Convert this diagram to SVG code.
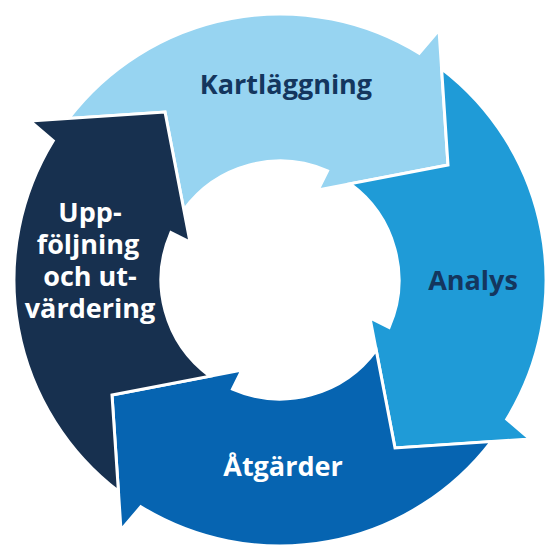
<svg xmlns="http://www.w3.org/2000/svg" width="545" height="545" viewBox="0 0 545 545">
  <defs>
    <style>
      .seg { stroke: #ffffff; stroke-width: 3; stroke-linejoin: miter; }
      .lbl { font-family: "Open Sans", "Noto Sans", "Liberation Sans", sans-serif; font-weight: 700; font-size: 27px; text-anchor: middle; }
      .dark { fill: #14365e; }
      .light { fill: #ffffff; }
    </style>
    <path id="arrow" d="M -211.3 -161.6 A 266 266 0 0 1 139.2 -226.7 L 159 -250 L 168 -115 L 38 -90 L 47.5 -109.1 A 119 119 0 0 0 -96.2 -70.1 L -115 -168 Z"/>
  </defs>
  <rect width="545" height="545" fill="#ffffff"/>
  <g id="kartlaggning">
    <use href="#arrow" class="seg" fill="#97d4f1" transform="translate(280 280)"/>
    <text class="lbl dark" x="286" y="94">Kartläggning</text>
  </g>
  <g id="analys">
    <use href="#arrow" class="seg" fill="#1f9bd7" transform="translate(280 280) rotate(90)"/>
    <text class="lbl dark" x="473" y="290">Analys</text>
  </g>
  <g id="atgarder">
    <use href="#arrow" class="seg" fill="#0664b1" transform="translate(280 280) rotate(180)"/>
    <text class="lbl light" x="283" y="476">Åtgärder</text>
  </g>
  <g id="uppfoljning">
    <use href="#arrow" class="seg" fill="#17304f" transform="translate(280 280) rotate(270)"/>
    <text class="lbl light" x="90" y="222">Upp-</text>
    <text class="lbl light" x="88" y="254">följning</text>
    <text class="lbl light" x="90" y="286">och ut-</text>
    <text class="lbl light" x="90" y="318">värdering</text>
  </g>
  <g id="connectors"/>
</svg>
